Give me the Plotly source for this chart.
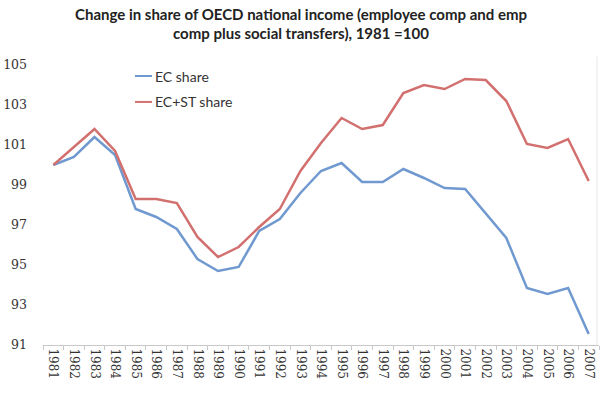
import plotly.graph_objects as go

years = [str(y) for y in range(1981, 2008)]
ec_share = [100.0, 100.4, 101.4, 100.5, 97.8, 97.4, 96.8, 95.3, 94.7, 94.9, 96.7, 97.3, 98.6, 99.7,
            100.1, 99.15, 99.15, 99.8, 99.35, 98.85, 98.8, 97.6, 96.35, 93.85, 93.55, 93.85, 91.55]
ecst_share = [100.0, 100.9, 101.8, 100.7, 98.3, 98.3, 98.1, 96.4, 95.4, 95.9, 96.9, 97.8, 99.7, 101.1,
              102.35, 101.8, 102.0, 103.6, 104.0, 103.8, 104.3, 104.25, 103.2, 101.05, 100.85, 101.3, 99.2]
y_ticks = [91, 93, 95, 97, 99, 101, 103, 105]
series_names = ["EC share", "EC+ST share"]
series_colors = ["#7099d0", "#d2706f"]
title_lines = ["Change in share of OECD national income (employee comp and emp",
               "comp plus social transfers), 1981 =100"]

fig = go.Figure()
for name, vals, col in zip(series_names, [ec_share, ecst_share], series_colors):
    fig.add_trace(go.Scatter(x=years, y=vals, mode="lines", name=name,
                             line=dict(color=col, width=2.5), showlegend=False))

# Manual legend (short line samples like the original)
leg_y = [0.9607, 0.868]
for name, col, ly in zip(series_names, series_colors, leg_y):
    fig.add_shape(type="line", xref="paper", yref="paper", x0=0.1655, x1=0.196, y0=ly, y1=ly,
                  line=dict(color=col, width=2))
    fig.add_annotation(text=name, xref="paper", yref="paper", x=0.1985, y=ly,
                       xanchor="left", yanchor="middle", showarrow=False,
                       font=dict(family="Lato, Open Sans, sans-serif", size=14, color="#333333"))

# Title as two lines
for txt, ty in zip(title_lines, [1.182, 1.114]):
    fig.add_annotation(text="<b>" + txt + "</b>", xref="paper", yref="paper", x=0.464, y=ty,
                       xanchor="center", yanchor="middle", showarrow=False,
                       font=dict(family="Lato, Open Sans, sans-serif", size=15, color="#222222"))

fig.update_layout(
    width=601, height=396,
    margin=dict(l=43, r=2, t=65, b=51),
    paper_bgcolor="white", plot_bgcolor="white",
    font=dict(family="DejaVu Serif, serif", color="#333333"),
    showlegend=False,
)
fig.update_xaxes(type="category", range=[-0.5, 26.5], tickangle=90,
                 showline=True, linecolor="#c8c8c8", linewidth=1,
                 ticks="outside", tickson="boundaries", ticklen=4, tickcolor="#c8c8c8",
                 showgrid=False, tickfont=dict(family="DejaVu Serif, serif", size=12, color="#333333"))
fig.update_yaxes(range=[91, 105], tickvals=y_ticks, showgrid=False, zeroline=False,
                 showline=False, ticks="", ticklabelstandoff=15,
                 tickfont=dict(family="DejaVu Serif, serif", size=12.5, color="#333333"))
fig.add_shape(type="line", xref="paper", yref="paper", x0=0.9964, x1=0.9964, y0=0, y1=1.03,
              line=dict(color="#e6e6e6", width=1))

fig.write_html("out.html", config={"displayModeBar": False},
               post_script="document.body.style.margin='0';document.body.style.overflow='hidden';")
